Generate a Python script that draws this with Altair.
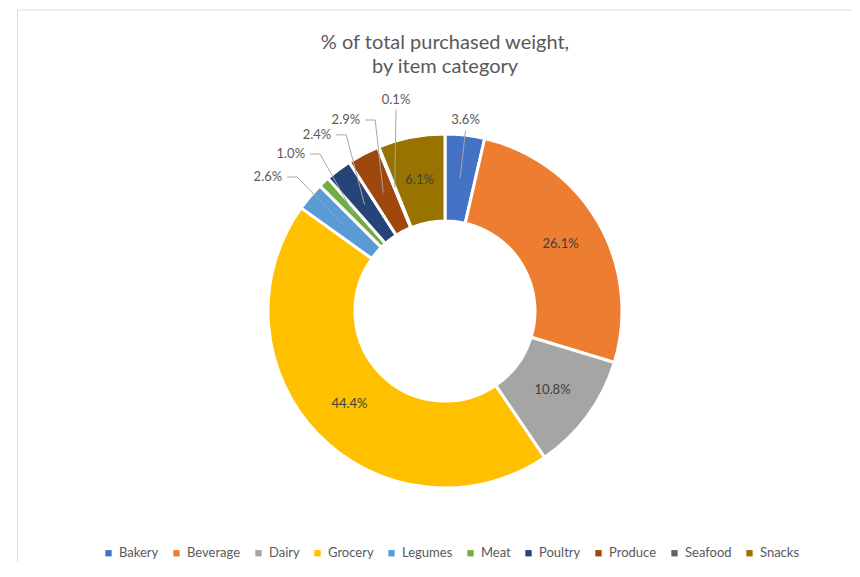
import altair as alt
import pandas as pd
import numpy as np

# ---------------- data ----------------
categories = ["Bakery", "Beverage", "Dairy", "Grocery", "Legumes",
              "Meat", "Poultry", "Produce", "Seafood", "Snacks"]
percent = [3.6, 26.1, 10.8, 44.4, 2.6, 1.0, 2.4, 2.9, 0.1, 6.1]
colors = ["#4472C4", "#ED7D31", "#A5A5A5", "#FFC000", "#5B9BD5",
          "#70AD47", "#264478", "#9E480E", "#636363", "#997300"]
title_lines = ["% of total purchased weight,", "by item category"]

# ---------------- layout constants ----------------
W, H = 856, 603
R_IN, R_OUT = 90, 177
R_MID = 133.5
FONT = "Lato"
TEXT_GRAY = "#595959"

n = len(categories)
total = float(sum(percent))
ends = np.cumsum(percent)
starts = ends - np.array(percent)
mid_deg = (starts + ends) / 2.0 / total * 360.0
label_txt = [f"{p:.1f}%" for p in percent]

slices = pd.DataFrame({
    "cat": categories, "pct": percent, "start": starts, "end": ends,
    "order": list(range(n)), "label": label_txt,
})

# inside labels for large slices, leader-line labels for small ones
small = [p < 4 for p in percent]
inside_rows = []
for i in range(n):
    if not small[i]:
        a = np.deg2rad(mid_deg[i])
        inside_rows.append({"cat": categories[i], "label": label_txt[i],
                            "x": R_MID * np.sin(a), "y": R_MID * np.cos(a)})
inside = pd.DataFrame(inside_rows)

clusters, cur = [], []
for i in range(n):
    if small[i]:
        cur.append(i)
    elif cur:
        clusters.append(cur)
        cur = []
if cur:
    clusters.append(cur)

GAP = 9.0
line_rows, side_rows, top_rows = [], [], []
for cl in clusters:
    R = 182 if len(cl) == 1 else 207
    prev = None
    for i in cl:
        a_deg = mid_deg[i] if prev is None else max(mid_deg[i], prev + GAP)
        prev = a_deg
        a = np.deg2rad(a_deg)
        ex, ey = R * np.sin(a), R * np.cos(a)
        m = np.deg2rad(mid_deg[i])
        sx, sy = R_MID * np.sin(m), R_MID * np.cos(m)
        ad = a_deg % 360
        top_dist = min(ad, 360 - ad)
        if top_dist < 18:
            stub = (ex, ey)
            top_rows.append({"cat": categories[i], "label": label_txt[i], "x": ex, "y": ey + 3})
        elif np.sin(a) < 0:
            stub = (ex + 10, ey)
            side_rows.append({"cat": categories[i], "label": label_txt[i], "x": ex - 5, "y": ey})
        else:
            stub = (ex - 10, ey)
            side_rows.append({"cat": categories[i], "label": label_txt[i], "x": ex + 5, "y": ey})
        for seq, (px, py) in enumerate([(ex, ey), stub, (sx, sy)]):
            line_rows.append({"cat": categories[i], "seq": seq, "x": px, "y": py})

lines = pd.DataFrame(line_rows)
side = pd.DataFrame(side_rows)
topl = pd.DataFrame(top_rows)

xs = alt.Scale(domain=[-W / 2, W / 2], nice=False, zero=False)
ys = alt.Scale(domain=[-H / 2, H / 2], nice=False, zero=False)

arcs = alt.Chart(slices).mark_arc(
    innerRadius=R_IN, outerRadius=R_OUT, stroke="white", strokeWidth=3
).encode(
    theta=alt.Theta("start:Q", scale=alt.Scale(domain=[0, total])),
    theta2="end:Q",
    color=alt.Color(
        "cat:N",
        scale=alt.Scale(domain=categories, range=colors),
        sort=categories,
        legend=alt.Legend(
            title=None, orient="none", legendX=85, legendY=537,
            direction="horizontal", columns=n, symbolType="square",
            symbolSize=40, symbolStrokeWidth=0, labelFont=FONT,
            labelFontSize=13, labelColor=TEXT_GRAY, columnPadding=11,
            labelOffset=4, padding=0,
        ),
    ),
    order=alt.Order("order:Q"),
)

leaders = alt.Chart(lines).mark_line(color="#A6A6A6", strokeWidth=1).encode(
    x=alt.X("x:Q", scale=xs, axis=None),
    y=alt.Y("y:Q", scale=ys, axis=None),
    detail="cat:N",
    order="seq:Q",
)

inside_text = alt.Chart(inside).mark_text(
    font=FONT, fontSize=13, color="#404040", align="center", baseline="middle"
).encode(x=alt.X("x:Q", scale=xs, axis=None), y=alt.Y("y:Q", scale=ys, axis=None), text="label:N")

side_text = alt.Chart(side).mark_text(
    font=FONT, fontSize=13, color=TEXT_GRAY, align="right", baseline="middle"
).encode(x=alt.X("x:Q", scale=xs, axis=None), y=alt.Y("y:Q", scale=ys, axis=None), text="label:N")

top_text = alt.Chart(topl).mark_text(
    font=FONT, fontSize=13, color=TEXT_GRAY, align="center", baseline="bottom"
).encode(x=alt.X("x:Q", scale=xs, axis=None), y=alt.Y("y:Q", scale=ys, axis=None), text="label:N")

chart = alt.layer(arcs, leaders, inside_text, side_text, top_text).properties(
    width=W, height=H,
    autosize=alt.AutoSizeParams(type="none"),
    padding={"left": 9, "top": 1.5, "right": -21, "bottom": -50.5},
    title=alt.Title(
        title_lines, anchor="middle", frame="group", offset=-67,
        font=FONT, fontSize=20, fontWeight="normal", color=TEXT_GRAY,
        lineHeight=24,
    ),
).configure_view(stroke="#D9D9D9", strokeWidth=1).configure(background="white")

chart.save("out.html", embed_options={"renderer": "svg", "actions": False})
